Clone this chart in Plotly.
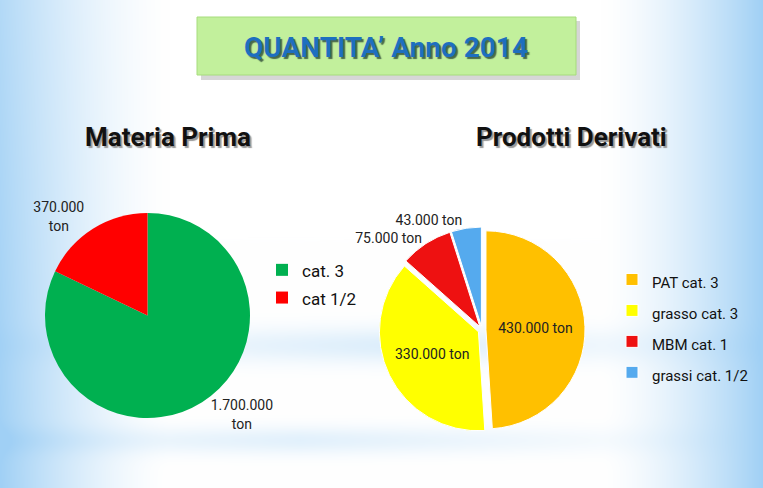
import plotly.graph_objects as go
import numpy as np
import zlib, struct, base64

# ---- data ----
left_labels = ["cat. 3", "cat 1/2"]
left_values = [1700000, 370000]
left_text = ["1.700.000<br>ton", "370.000<br>ton"]
left_colors = ["#00b050", "#ff0000"]

right_labels = ["PAT cat. 3", "grasso cat. 3", "MBM cat. 1", "grassi cat. 1/2"]
right_values = [430000, 330000, 75000, 43000]
right_text = ["430.000 ton", "330.000 ton", "75.000 ton", "43.000 ton"]
right_colors = ["#ffc000", "#ffff00", "#ee1111", "#55aaee"]
right_textpos = ["inside", "inside", "outside", "outside"]

W, H = 763, 488
FONT = "Roboto, Liberation Sans, sans-serif"

# ---- background gradient image ----
yy, xx = np.mgrid[0:H, 0:W].astype(float)
t = np.zeros((H, W))
t = np.maximum(t, np.clip(1 - xx / 170, 0, 1) ** 1.5 * (0.8 + 0.2 * yy / H))
t = np.maximum(t, np.clip((xx - 600) / 163, 0, 1) ** 1.5)
band1 = np.exp(-((yy - 345) / 18) ** 2) * np.clip(1 - np.abs(xx - 380) / 420, 0, 1) * 0.35
band2 = np.exp(-((yy - 440) / 14) ** 2) * np.clip(1 - np.abs(xx - 300) / 450, 0, 1) * 0.3
t = np.clip(t + band1 + band2, 0, 1)
white = np.array([255, 255, 255.0])
blue = np.array([160, 208, 245.0])
img = (white[None, None, :] * (1 - t[..., None]) + blue[None, None, :] * t[..., None]).astype(np.uint8)
raw = b"".join(b"\x00" + img[r].tobytes() for r in range(H))
def chunk(tag, data):
    c = struct.pack(">I", len(data)) + tag + data
    return c + struct.pack(">I", zlib.crc32(tag + data) & 0xffffffff)
png = b"\x89PNG\r\n\x1a\n" + chunk(b"IHDR", struct.pack(">IIBBBBB", W, H, 8, 2, 0, 0, 0)) \
      + chunk(b"IDAT", zlib.compress(raw, 9)) + chunk(b"IEND", b"")
bg_uri = "data:image/png;base64," + base64.b64encode(png).decode()

def legend_label(s, px):
    return f"<span style='font-size:{px}px'>{s}</span>"

fig = go.Figure()
fig.add_trace(go.Pie(
    labels=[legend_label(l, 17) for l in left_labels], values=left_values, text=left_text,
    textinfo="text", textposition="outside", sort=False, direction="clockwise",
    rotation=0, marker=dict(colors=left_colors, line=dict(width=0)),
    textfont=dict(family=FONT, size=14, color="#222"),
    domain=dict(x=[45 / W, 250 / W], y=[1 - 418 / H, 1 - 213 / H]),
    legend="legend", hoverinfo="value",
))
fig.add_trace(go.Pie(
    labels=[legend_label(l, 15) for l in right_labels], values=right_values, text=right_text,
    textinfo="text", textposition=right_textpos, sort=False, direction="clockwise",
    rotation=0, pull=[0.04, 0.04, 0.04, 0.04],
    marker=dict(colors=right_colors, line=dict(color="white", width=1)),
    textfont=dict(family=FONT, size=14, color="#222"),
    insidetextorientation="horizontal",
    domain=dict(x=[378 / W, 586 / W], y=[1 - 433 / H, 1 - 227 / H]),
    legend="legend2", hoverinfo="value",
))

fig.update_layout(
    width=W, height=H, margin=dict(l=0, r=0, t=0, b=0),
    paper_bgcolor="white", plot_bgcolor="rgba(0,0,0,0)",
    images=[dict(source=bg_uri, xref="paper", yref="paper", x=0, y=1, sizex=1, sizey=1,
                 sizing="stretch", layer="below", xanchor="left", yanchor="top")],
    legend=dict(x=262 / W, y=1 - 251 / H, xanchor="left", yanchor="top",
                font=dict(family=FONT, size=19, color="#111"), bgcolor="rgba(0,0,0,0)",
                itemwidth=30),
    legend2=dict(x=612 / W, y=1 - 259 / H, xanchor="left", yanchor="top",
                 font=dict(family=FONT, size=21.5, color="#111"), bgcolor="rgba(0,0,0,0)",
                 itemwidth=30),
    shapes=[
        dict(type="rect", xref="paper", yref="paper", x0=201 / W, x1=580 / W,
             y0=1 - 80 / H, y1=1 - 21 / H, fillcolor="rgba(120,120,120,0.30)", line=dict(width=0), layer="above"),
        dict(type="rect", xref="paper", yref="paper", x0=197 / W, x1=576 / W,
             y0=1 - 75 / H, y1=1 - 17 / H, fillcolor="#c2f09c", line=dict(color="#a6dc7c", width=1), layer="above"),
    ],
    showlegend=True,
)

def title_text(txt, x, y, size, color, shadow):
    fig.add_annotation(text=txt, x=x, y=y, xref="paper", yref="paper", showarrow=False,
                       xanchor="center", yanchor="middle",
                       font=dict(family=FONT, size=size, color=color, weight="bold", shadow=shadow))

title_text("QUANTITA’ Anno 2014", 386 / W, 1 - 47 / H, 28, "#1e6fbf", "2px 2px 1px #4a6a4a")
title_text("Materia Prima", 168 / W, 1 - 137 / H, 26, "#111111", "2px 2px 1px #999999")
title_text("Prodotti Derivati", 571 / W, 1 - 137 / H, 26, "#111111", "2px 2px 1px #999999")

fig.write_html("out.html", config={"displayModeBar": False},
               post_script="document.body.style.margin='0';document.body.style.overflow='hidden';")
